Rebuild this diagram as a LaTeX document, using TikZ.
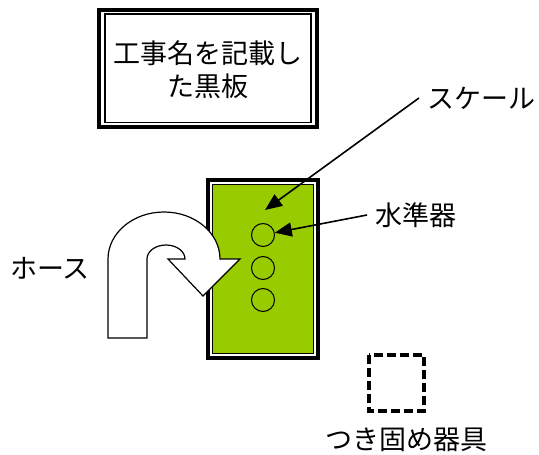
\documentclass[tikz,border=0pt]{standalone}
\usepackage{fontspec}
\newfontfamily\jpfont{Noto Sans CJK JP}
\usepackage{tikz}
\usetikzlibrary{arrows.meta}
\definecolor{boardgreen}{HTML}{99CC00}

\begin{document}
\begin{tikzpicture}[x=1pt, y=1pt,
	jplabel/.style={font=\jpfont\fontsize{27}{33}\selectfont, inner sep=8pt},
	bubble/.style={circle, draw, line width=1pt, minimum size=23pt, inner sep=0pt},
	pointer/.style={line width=1.6pt, -{Triangle[length=17pt, width=14pt]}}]
	\useasboundingbox (0,0) rectangle (539,-455);

	\draw[line width=4pt] (99,-10) rectangle (317,-127);
	\draw[line width=1.3pt] (105,-14) rectangle (311,-122.5);
	\node[jplabel, align=center] (board) at (208,-70) {工事名を記載し\\た黒板};

	\draw[line width=4pt] (208,-180) rectangle (318,-358);
	\filldraw[fill=boardgreen, line width=1.2pt] (212.7,-184.7) rectangle (313.3,-353.3);
	\foreach \n/\y in {1/235, 2/268, 3/300} {
		\node[bubble] (bub\n) at (263,-\y) {};
	}

	\filldraw[fill=white, line width=1.2pt, line join=miter] (108,-338) -- (108,-259)
		arc[start angle=180, end angle=0, x radius=56, y radius=47] -- (240,-259) -- (203,-296)
		-- (168,-259) -- (185,-259) arc[start angle=0, end angle=180, x radius=19, y radius=14]
		-- (147,-338) -- cycle;

	\draw[line width=4.5pt, dash pattern=on 9pt off 4pt] (369,-355) rectangle (424,-411);

	\node[jplabel, anchor=west] (scale) at (419,-98) {スケール};
	\node[jplabel, anchor=west] (suijun) at (367,-215) {水準器};
	\node[jplabel] (hose) at (50,-268) {ホース};
	\node[jplabel] (tamper) at (406,-440) {つき固め器具};
	\coordinate (scaletip) at (265,-210);

	\draw[pointer] (scale.west) -- (scaletip);
	\draw[pointer] (suijun.west) -- (bub1);
\end{tikzpicture}
\end{document}
